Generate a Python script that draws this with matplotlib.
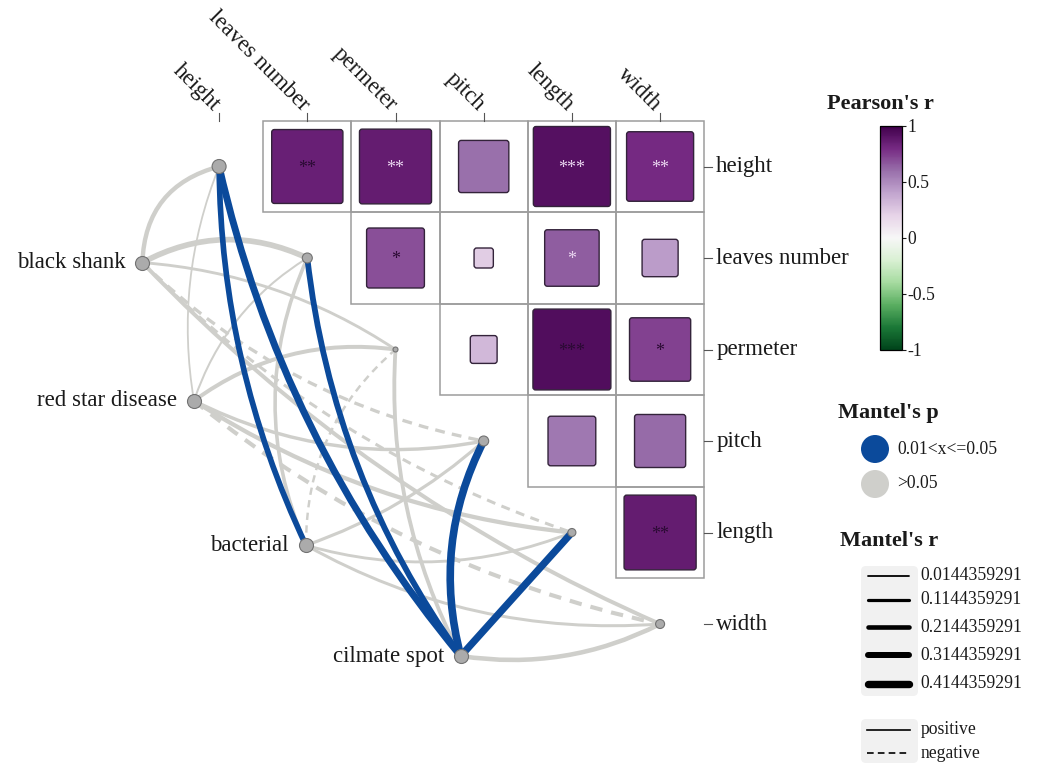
import matplotlib.pyplot as plt
import numpy as np
from matplotlib.path import Path
from matplotlib.patches import PathPatch, FancyBboxPatch, Circle, Rectangle
from matplotlib.colors import Normalize
import matplotlib as mpl

plt.rcParams["font.family"] = ["Liberation Serif", "DejaVu Serif"]
plt.rcParams["axes.unicode_minus"] = False

env = ["height", "leaves number", "permeter", "pitch", "length", "width"]
spec = ["black shank", "red star disease", "bacterial", "cilmate spot"]

# Pearson's r, upper triangle, row i holds columns i+1..5
pearson_r = [
    [0.85, 0.86, 0.60, 0.92, 0.80],
    [0.69, 0.23, 0.65, 0.43],
    [0.32, 0.93, 0.73],
    [0.57, 0.61],
    [0.86],
]
pearson_sig = [
    ["**", "**", "", "***", "**"],
    ["*", "", "*", ""],
    ["", "***", "*"],
    ["", ""],
    ["**"],
]
# star colour: 0 dark, 1 light
sig_light = [
    [0, 1, 0, 1, 1],
    [0, 0, 1, 0],
    [0, 0, 0],
    [0, 0],
    [0],
]

# Mantel test, rows = spec, cols = env (negative r drawn dashed)
mantel_r = [
    [0.20, 0.29, 0.09, -0.12, -0.10, 0.17],
    [0.0144359291, 0.03, 0.17, 0.13, 0.19, -0.18],
    [0.29, 0.14, -0.06, 0.11, 0.09, 0.10],
    [0.38, 0.30, 0.16, 0.43, 0.40, 0.21],
]
mantel_p = [
    [0.21, 0.12, 0.46, 0.38, 0.52, 0.17],
    [0.88, 0.74, 0.19, 0.33, 0.14, 0.16],
    [0.03, 0.27, 0.61, 0.41, 0.55, 0.49],
    [0.02, 0.04, 0.22, 0.02, 0.03, 0.09],
]
r_breaks = [0.0144359291, 0.1144359291, 0.2144359291, 0.3144359291, 0.4144359291]

# layout / style
spec_pos = [(-0.87, 1.05), (-0.285, 2.56), (0.985, 4.14), (2.74, 5.35)]
curv = [
    [0.37, 0.25, 0.13, -0.15, -0.12, -0.10],
    [0.14, 0.18, 0.20, -0.17, -0.12, -0.12],
    [0.11, 0.22, 0.23, -0.10, -0.17, -0.15],
    [0.12, 0.13, 0.14, 0.19, 0.00, -0.16],
]
env_node_r = [7, 5, 2.5, 5, 4, 4.5]
spec_node_r = 7
BLUE = "#0b4a9b"
GREY = "#cfcfcb"
TXT = "#1a1a1a"


def width_px(r):
    return 1.6 + 14 * abs(r)


fig = plt.figure(figsize=(10.44, 7.71), dpi=100)
ax = fig.add_axes([0, 0, 1, 1])
CW, CH = 88.2, 91.5
X0, Y0 = 219.1, 166.5
ax.set_xlim(-X0 / CW, (1044 - X0) / CW)
ax.set_ylim((771 - Y0) / CH, -Y0 / CH)
ax.axis("off")

cmap = plt.get_cmap("PRGn_r")
norm = Normalize(-1, 1)

# correlation squares
for i, row in enumerate(pearson_r):
    for k, r in enumerate(row):
        j = i + 1 + k
        ax.add_patch(Rectangle((j - 0.5, i - 0.5), 1, 1, fill=False,
                               ec="#9c9c9c", lw=1.1, zorder=1))
        s = 0.95 * abs(r)
        ax.add_patch(FancyBboxPatch((j - s / 2, i - s / 2), s, s,
                                    boxstyle="round,pad=0,rounding_size=0.03",
                                    fc=cmap(norm(r)), ec="#33233a", lw=1.0, zorder=2))
        if pearson_sig[i][k]:
            c = "#ead6f0" if sig_light[i][k] else "#2a0a33"
            ax.text(j, i + 0.02, pearson_sig[i][k], ha="center", va="center",
                    fontsize=13, color=c, zorder=3)

# axis ticks and labels
for j, name in enumerate(env):
    ax.plot([j, j], [-0.5, -0.5 - 8 / CH], color="#555555", lw=0.8)
    ax.text(j - 2 / CW, -0.5 - 13 / CH, name, rotation=-45, rotation_mode="anchor",
            ha="right", va="center", fontsize=16.5, color=TXT)
for i, name in enumerate(env):
    ax.plot([5.5, 5.5 + 8 / CW], [i, i], color="#555555", lw=0.8)
    ax.text(5.5 + 12 / CW, i, name, ha="left", va="center", fontsize=16.5, color=TXT)


# mantel links
def curve_path(p0, p1, c):
    a = ax.transData.transform(p0)
    b = ax.transData.transform(p1)
    d = b - a
    L = np.hypot(*d)
    perp = np.array([-d[1], d[0]]) / L
    ctrl = (a + b) / 2 + c * L * perp
    ctrl = ax.transData.inverted().transform(ctrl)
    return Path([p0, tuple(ctrl), p1], [Path.MOVETO, Path.CURVE3, Path.CURVE3])


for blue_pass in (False, True):
    for si in range(len(spec)):
        for ei in range(len(env)):
            r = mantel_r[si][ei]
            sig = mantel_p[si][ei] <= 0.05
            if sig != blue_pass:
                continue
            w = width_px(r) * 0.72
            ls = "-" if r >= 0 else (0, (3, 2.2))
            path = curve_path(spec_pos[si], (ei, ei), curv[si][ei])
            ax.add_patch(PathPatch(path, fill=False, ec=BLUE if sig else GREY,
                                   lw=w, linestyle=ls, capstyle="butt",
                                   zorder=4 + blue_pass))

# nodes
ax.scatter(range(len(env)), range(len(env)), s=[(2 * r * 0.72) ** 2 for r in env_node_r],
           c="#ababab", edgecolors="#727272", linewidths=0.8, zorder=7)
sx, sy = zip(*spec_pos)
ax.scatter(sx, sy, s=(2 * spec_node_r * 0.72) ** 2, c="#ababab",
           edgecolors="#727272", linewidths=0.8, zorder=7)
for (x, y), name in zip(spec_pos, spec):
    ax.text(x - 17 / CW, y, name, ha="right", va="center", fontsize=16.5, color=TXT)

# colorbar
cax = fig.add_axes([880 / 1044, 1 - 350 / 771, 22 / 1044, 224 / 771])
cb = mpl.colorbar.ColorbarBase(cax, cmap=cmap, norm=norm, ticks=[-1, -0.5, 0, 0.5, 1])
cb.ax.set_yticklabels(["-1", "-0.5", "0", "0.5", "1"])
cb.ax.tick_params(length=3, width=0.8, labelsize=12.7, pad=1, colors=TXT)
cb.outline.set_linewidth(0.9)

# legends
lax = fig.add_axes([0, 0, 1, 1], zorder=10)
lax.set_xlim(0, 1044)
lax.set_ylim(771, 0)
lax.axis("off")
lax.patch.set_alpha(0)

lax.text(827, 104, "Pearson's r", ha="left", va="center", fontsize=16,
         fontweight="bold", color=TXT)

lax.text(838, 413, "Mantel's p", ha="left", va="center", fontsize=16,
         fontweight="bold", color=TXT)
for y, col, lab in [(449, BLUE, "0.01<x<=0.05"), (484, GREY, ">0.05")]:
    lax.add_patch(Circle((875, y), 14, fc=col, ec="none"))
    lax.text(897, y, lab, ha="left", va="center", fontsize=12.7, color=TXT)

lax.text(840, 541, "Mantel's r", ha="left", va="center", fontsize=16,
         fontweight="bold", color=TXT)
lax.add_patch(FancyBboxPatch((861, 566), 57, 130, boxstyle="round,pad=0,rounding_size=5",
                             fc="#f1f1f1", ec="none"))
key_y = [576, 600, 627, 655, 684]
for y, r in zip(key_y, r_breaks):
    lax.plot([868, 909], [y, y], color="black", lw=width_px(r) * 0.72,
             solid_capstyle="round")
    lax.text(920, y, f"{r:.10f}", ha="left", va="center", fontsize=12.7, color=TXT)

lax.add_patch(FancyBboxPatch((861, 719), 57, 44, boxstyle="round,pad=0,rounding_size=5",
                             fc="#f1f1f1", ec="none"))
lax.plot([867, 910], [730, 730], color="black", lw=1.2)
lax.plot([867, 910], [753, 753], color="black", lw=1.2, linestyle=(0, (4, 2.5)))
lax.text(921, 730, "positive", ha="left", va="center", fontsize=12.7, color=TXT)
lax.text(921, 753, "negative", ha="left", va="center", fontsize=12.7, color=TXT)

fig.savefig("out.png", dpi=100)
